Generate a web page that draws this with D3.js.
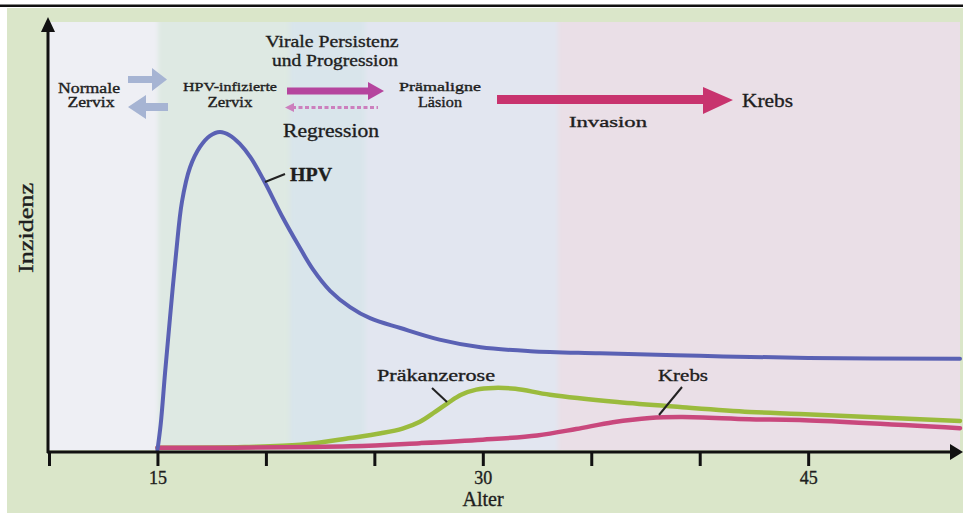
<!DOCTYPE html>
<html><head><meta charset="utf-8">
<script src="https://cdn.jsdelivr.net/npm/d3@7"></script>
<style>
body{margin:0;background:#fff}
svg{display:block}
text{font-family:"Liberation Serif","Times New Roman",serif;fill:#1e1e1e;stroke:#1e1e1e;stroke-width:0.35px}
</style>
</head><body><svg id="c" width="963" height="515"></svg>
<script>
// ---- data ----
const hpvAges   = [15, 15.15, 15.35, 15.58, 15.86, 16.13, 16.5, 16.96, 17.42, 17.88, 18.34, 18.8, 19.3, 19.87, 20.79, 21.48, 22.17, 22.96, 23.88, 24.8, 26.2, 28, 29.9, 32.2, 35.4, 40, 45, 52];
const hpvValues = [0, 6, 18, 31, 46, 58, 66, 70.8, 73.4, 74.3, 73.5, 71.5, 68.3, 63.3, 54.2, 48, 42.2, 37.2, 33.4, 30.8, 28.5, 25.8, 24, 23.1, 22.6, 22.0, 21.5, 21.3];
const preAges   = [15, 19, 21.6, 23.9, 25.3, 26.3, 27.1, 27.8, 28.4, 29, 29.7, 30.5, 31.5, 33.1, 36.2, 39.2, 42.3, 44.6, 52];
const preValues = [0.5, 0.7, 1.2, 2.8, 3.9, 5.0, 6.6, 8.9, 11.0, 12.9, 14.1, 14.5, 14.3, 12.9, 11.2, 10, 8.9, 8.4, 6.8];
const canAges   = [15, 23.9, 27.1, 30, 32.5, 34.3, 36, 37.7, 39.2, 42.3, 44.6, 52];
const canValues = [0.5, 0.9, 1.6, 2.4, 3.4, 4.9, 6.5, 7.5, 7.7, 7.2, 7.0, 5.1];
const tickAges   = [10, 15, 20, 25, 30, 35, 40, 45];
const tickLabels = ["", "15", "", "", "30", "", "", "45"];
const bandStarts = [10, 15.03, 21.1, 24.57, 33.47];
const bandEnds   = [15.03, 21.1, 24.57, 33.47, 52];
const bandColors = ["#eeeff4", "#dee9e3", "#d9e5eb", "#e2e6f0", "#eadfe7"];

// ---- setup ----
const svg = d3.select("#c");
const x = d3.scaleLinear().domain([10, 52]).range([49, 960]);
const y = d3.scaleLinear().domain([0, 100]).range([450, 22]);

// frame
svg.append("rect").attr("x", 7).attr("y", 8).attr("width", 956).attr("height", 505).attr("fill", "#dae6c9");
svg.append("rect").attr("x", 0).attr("y", 4.5).attr("width", 963).attr("height", 2.5).attr("fill", "#111");

// bands
const defs = svg.append("defs");
defs.append("filter").attr("id", "soft").attr("x", "-5%").attr("y", "-5%").attr("width", "110%").attr("height", "110%")
  .append("feGaussianBlur").attr("stdDeviation", 2);
defs.append("clipPath").attr("id", "plotclip").append("rect")
  .attr("x", 48).attr("y", 22).attr("width", x(52) - 48).attr("height", 428);
const bg = svg.append("g").attr("clip-path", "url(#plotclip)").append("g").attr("filter", "url(#soft)");
bg.selectAll("rect").data(bandStarts).join("rect")
  .attr("x", (d, i) => x(d) - (i === 0 ? 5 : 0))
  .attr("y", 18)
  .attr("width", (d, i) => x(bandEnds[i]) - x(d) + (i === 0 ? 5 : 0) + (i === 4 ? 6 : 0))
  .attr("height", 436)
  .attr("fill", (d, i) => bandColors[i]);

// curves
const line = d3.line().x(d => x(d[0])).y(d => y(d[1])).curve(d3.curveCatmullRom.alpha(0.5));
const series = [
  {ages: preAges, vals: preValues, color: "#9bbb3d", w: 4.5},
  {ages: canAges, vals: canValues, color: "#c9487d", w: 4.5},
  {ages: hpvAges, vals: hpvValues, color: "#5a61b4", w: 4}
];
series.forEach(s => {
  svg.append("path").datum(s.ages.map((a, i) => [a, s.vals[i]]))
    .attr("d", line).attr("fill", "none").attr("stroke", s.color)
    .attr("stroke-width", s.w).attr("stroke-linejoin", "round").attr("stroke-linecap", "round");
});

// axes
const xAxis = d3.axisBottom(x).tickValues(tickAges).tickSize(14).tickPadding(5)
  .tickFormat((d, i) => tickLabels[i]);
const gx = svg.append("g").attr("transform", "translate(0,452)").call(xAxis);
gx.select(".domain").remove();
gx.selectAll(".tick line").attr("stroke", "#111").attr("stroke-width", 3);
gx.selectAll(".tick text").attr("font-family", "Liberation Serif, serif").attr("font-size", 18).attr("fill", "#1e1e1e");
svg.append("line").attr("x1", 47).attr("x2", 952).attr("y1", 452).attr("y2", 452).attr("stroke", "#111").attr("stroke-width", 3);
svg.append("path").attr("d", "M950,444 L963,452 L950,460 Z").attr("fill", "#111");
svg.append("line").attr("x1", 48).attr("x2", 48).attr("y1", 453).attr("y2", 28).attr("stroke", "#111").attr("stroke-width", 3);
svg.append("path").attr("d", "M41,32 L48,17 L55,32 Z").attr("fill", "#111");

// axis titles
svg.append("text").attr("x", 483).attr("y", 506).attr("text-anchor", "middle").attr("font-size", 20).text("Alter");
svg.append("text").attr("transform", "translate(33,228) rotate(-90)").attr("text-anchor", "middle")
  .attr("font-size", 20).attr("textLength", 90).attr("lengthAdjust", "spacingAndGlyphs").text("Inzidenz");

// annotation helper
function label(txt, cx, by, size, len, weight) {
  const t = svg.append("text").attr("x", cx).attr("y", by).attr("text-anchor", "middle")
    .attr("font-size", size).text(txt);
  if (len) t.attr("textLength", len).attr("lengthAdjust", "spacingAndGlyphs");
  if (weight) t.attr("font-weight", weight);
  return t;
}
label("Virale Persistenz", 332, 47, 17, 133);
label("und Progression", 335, 66, 17, 126);
label("Normale", 89, 93, 14, 62);
label("Zervix", 91, 107, 14, 47);
label("HPV-infizierte", 230, 91, 13, 94);
label("Zervix", 230, 107, 14, 45);
label("Prämaligne", 440, 91, 13, 82);
label("Läsion", 440, 107, 14, 44);
label("Regression", 331, 137, 18, 96);
label("Invasion", 608, 127, 15, 78);
svg.append("text").attr("x", 742).attr("y", 107).attr("font-size", 19).attr("textLength", 51)
  .attr("lengthAdjust", "spacingAndGlyphs").text("Krebs");

// arrows
svg.append("path").attr("d", "M128,76 L152,76 L152,68 L167,79.5 L152,91 L152,83 L128,83 Z").attr("fill", "#a6b4d3");
svg.append("path").attr("d", "M168,103 L146,103 L146,95 L128,107 L146,119 L146,111 L168,111 Z").attr("fill", "#a6b4d3");
svg.append("path").attr("d", "M287,87.5 L368,87.5 L368,82 L384,91 L368,100 L368,94.5 L287,94.5 Z").attr("fill", "#b5459e");
svg.append("line").attr("x1", 292).attr("x2", 378).attr("y1", 107.5).attr("y2", 107.5)
  .attr("stroke", "#cc7fbd").attr("stroke-width", 3).attr("stroke-dasharray", "4,2.5");
svg.append("path").attr("d", "M285,107.5 L294,103 L294,112 Z").attr("fill", "#cc7fbd");
svg.append("path").attr("d", "M497,95 L703,95 L703,87 L733,100 L703,114 L703,104 L497,104 Z").attr("fill", "#c8336e");

// series labels
svg.append("line").attr("x1", 265).attr("y1", 182).attr("x2", 285).attr("y2", 174).attr("stroke", "#222").attr("stroke-width", 2);
svg.append("text").attr("x", 290).attr("y", 181).attr("font-size", 18).attr("font-weight", "bold")
  .attr("textLength", 42).attr("lengthAdjust", "spacingAndGlyphs").text("HPV");
svg.append("line").attr("x1", 432).attr("y1", 388).attr("x2", 447).attr("y2", 402).attr("stroke", "#222").attr("stroke-width", 2);
svg.append("text").attr("x", 377).attr("y", 381).attr("font-size", 17)
  .attr("textLength", 118).attr("lengthAdjust", "spacingAndGlyphs").text("Präkanzerose");
svg.append("line").attr("x1", 682).attr("y1", 387).attr("x2", 659).attr("y2", 415).attr("stroke", "#222").attr("stroke-width", 2);
svg.append("text").attr("x", 658).attr("y", 381).attr("font-size", 17)
  .attr("textLength", 50).attr("lengthAdjust", "spacingAndGlyphs").text("Krebs");
</script></body></html>
